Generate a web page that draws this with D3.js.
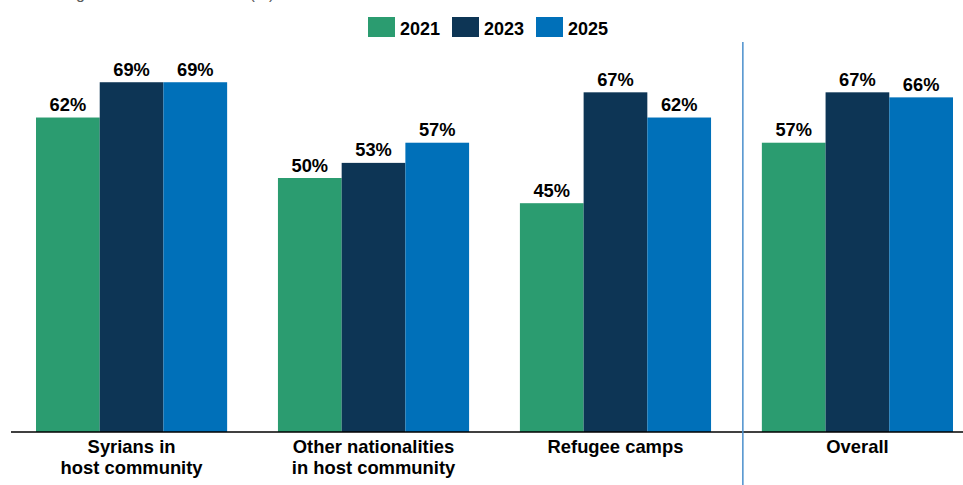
<!DOCTYPE html>
<html>
<head>
<meta charset="utf-8">
<script src="https://cdn.jsdelivr.net/npm/d3@7"></script>
<style>
  html, body { margin: 0; padding: 0; background: #fff; }
  svg { display: block; font-family: "Liberation Sans", Arial, sans-serif; }
</style>
</head>
<body>
<svg id="chart" width="963" height="485"></svg>
<script>
// Chart data
const categories = [
  ["Syrians in", "host community"],
  ["Other nationalities", "in host community"],
  ["Refugee camps"],
  ["Overall"]
];
const years = ["2021", "2023", "2025"];
const values2021 = [62, 50, 45, 57];
const values2023 = [69, 53, 67, 67];
const values2025 = [69, 57, 62, 66];
const seriesColors = ["#2b9c70", "#0d3555", "#0070b9"];
const titleText = "Percentage satisfied with service (%)";

const series = [values2021, values2023, values2025];
const catKeys = categories.map(c => c.join(" "));
const rows = catKeys.map((k, i) => ({
  key: k,
  lines: categories[i],
  vals: years.map((y, j) => ({ year: y, value: series[j][i], color: seriesColors[j] }))
}));

const svg = d3.select("#chart");
const W = 963, H = 485;
const baseY = 432;

const x0 = d3.scaleBand().domain(catKeys).range([36, 953]).paddingInner(0.21).paddingOuter(0);
const x1 = d3.scaleBand().domain(years).range([0, x0.bandwidth()]).padding(0);
const y = d3.scaleLinear().domain([0, 100]).range([430, 430 - 504]);

// Clipped heading at the top edge
svg.append("text")
  .attr("x", 12).attr("y", -1.5)
  .attr("font-size", 16).attr("fill", "#595959")
  .text(titleText);

// Legend
const legend = svg.append("g");
years.forEach((yr, i) => {
  const lx = 368 + i * 84;
  legend.append("rect").attr("x", lx).attr("y", 17).attr("width", 27).attr("height", 20)
    .attr("fill", seriesColors[i]);
  legend.append("text").attr("x", lx + 32).attr("y", 35)
    .attr("font-size", 18).attr("font-weight", "bold").attr("fill", "#000")
    .text(yr);
});

// Bars
const groups = svg.append("g").selectAll("g").data(rows).join("g")
  .attr("transform", d => `translate(${x0(d.key)},0)`);

groups.selectAll("rect").data(d => d.vals).join("rect")
  .attr("x", d => x1(d.year))
  .attr("y", d => y(d.value))
  .attr("width", x1.bandwidth())
  .attr("height", d => baseY - y(d.value))
  .attr("fill", d => d.color);

groups.selectAll("text.val").data(d => d.vals).join("text")
  .attr("class", "val")
  .attr("x", d => x1(d.year) + x1.bandwidth() / 2)
  .attr("y", d => y(d.value) - 6.5)
  .attr("text-anchor", "middle")
  .attr("font-size", 18.3).attr("font-weight", "bold").attr("fill", "#000")
  .text(d => d.value + "%");

// Category labels
groups.each(function(d) {
  const t = d3.select(this).append("text")
    .attr("text-anchor", "middle")
    .attr("font-size", 18.4).attr("font-weight", "bold").attr("fill", "#000");
  d.lines.forEach((ln, i) => {
    t.append("tspan").attr("x", x0.bandwidth() / 2).attr("y", 453 + i * 21).text(ln);
  });
});

// Baseline
svg.append("line").attr("x1", 11).attr("x2", W).attr("y1", baseY).attr("y2", baseY)
  .attr("stroke", "#000").attr("stroke-width", 1.3);

// Divider between groups and the overall figure
const divX = x0(catKeys[3]) - 19;
svg.append("line").attr("x1", divX).attr("x2", divX).attr("y1", 42).attr("y2", H)
  .attr("stroke", "#4a8fcc").attr("stroke-width", 1.5);
</script>
</body>
</html>
